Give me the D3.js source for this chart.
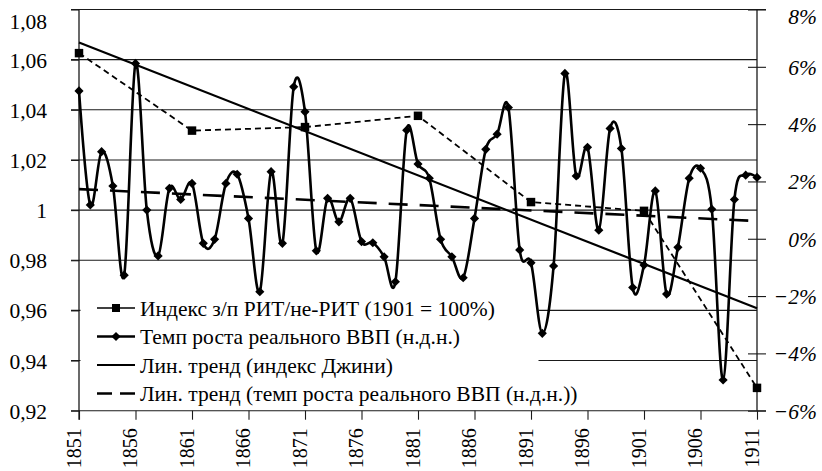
<!DOCTYPE html>
<html><head><meta charset="utf-8">
<script src="https://cdn.jsdelivr.net/npm/d3@7/dist/d3.min.js"></script>
<style>body{margin:0;background:#fff} svg{display:block}</style>
</head><body><svg id="c" width="822" height="471"></svg>
<script>
// ---- data ----
const years = d3.range(1851, 1912);
const gdpGrowth = [
  5.16, 1.18, 3.04, 1.84, -1.27, 6.12, 1.00, -0.60, 1.76, 1.37,
  1.93, -0.16, -0.02, 1.93, 2.25, 0.71, -1.85, 2.34, -0.16, 5.30,
  4.43, -0.42, 1.41, 0.59, 1.41, -0.10, -0.14, -0.63, -1.50, 3.79,
  2.61, 2.11, -0.02, -0.63, -1.36, 0.71, 3.12, 3.65, 4.58, -0.39,
  -0.84, -3.30, -0.95, 5.77, 2.19, 3.19, 0.30, 3.85, 3.15, -1.70,
  -0.92, 1.67, -1.93, -0.30, 2.11, 2.46, 1.03, -4.93, 1.37, 2.22, 2.14
];
const indexYears = [1851, 1861, 1871, 1881, 1891, 1901, 1911];
const wageIndex = [1.0626, 1.0317, 1.0331, 1.0376, 1.0032, 0.9997, 0.9291];
const leftTicks = [0.92, 0.94, 0.96, 0.98, 1.00, 1.02, 1.04, 1.06, 1.08];
const rightTicks = [-6, -4, -2, 0, 2, 4, 6, 8];
const yearTicks = [1851, 1856, 1861, 1866, 1871, 1876, 1881, 1886, 1891, 1896, 1901, 1906, 1911];
const legendLabels = [
  "Индекс з/п РИТ/не-РИТ (1901 = 100%)",
  "Темп роста реального ВВП (н.д.н.)",
  "Лин. тренд (индекс Джини)",
  "Лин. тренд (темп роста реального ВВП (н.д.н.))"
];

// ---- helpers ----
function linReg(xs, ys) {
  const mx = d3.mean(xs), my = d3.mean(ys);
  let num = 0, den = 0;
  xs.forEach((x, i) => { num += (x - mx) * (ys[i] - my); den += (x - mx) * (x - mx); });
  const b = num / den;
  return x => my + b * (x - mx);
}

const svg = d3.select("#c");
const FONT = '"Liberation Serif"';
const FS = 21.5;
const X0 = 79, X1 = 757, Y0 = 410.7, Y1 = 9.5;
const x = d3.scaleLinear().domain([1851, 1911]).range([X0, X1]);
const yL = d3.scaleLinear().domain([0.92, 1.08]).range([Y0, Y1]);
const yR = d3.scaleLinear().domain([-6, 8]).range([Y0, Y1]);
const topL = d3.max(leftTicks), topR = d3.max(rightTicks);

// gridlines
svg.append("g").selectAll("line").data(leftTicks).join("line")
  .attr("x1", X0 - 8)
  .attr("x2", d => (d === topL || d === d3.min(leftTicks)) ? X1 + 9 : X1)
  .attr("y1", d => yL(d)).attr("y2", d => yL(d))
  .attr("stroke", "#1a1a1a").attr("stroke-width", 1.1);

// legend background (covers gridlines)
const lg = svg.append("g");
lg.append("rect").attr("x", X0 + 1.5).attr("y", 297).attr("width", 458).attr("height", 111).attr("fill", "#fff");

// left axis
const fmtL = d => d === 1 ? "1" : d.toFixed(2).replace(".", ",");
const axL = svg.append("g").attr("transform", `translate(${X0},0)`)
  .call(d3.axisLeft(yL).tickValues(leftTicks).tickSize(8).tickSizeOuter(0).tickPadding(24).tickFormat(fmtL));
axL.attr("font-family", null).attr("font-size", null);
axL.select(".domain").remove();
axL.selectAll("line").attr("stroke", "#1a1a1a").attr("stroke-width", 1.1);
axL.selectAll("text").style("font-family", FONT).style("font-size", FS + "px").attr("fill", "#000")
  .attr("dy", d => d === topL ? "0.9em" : "0.35em");
svg.append("line").attr("x1", X0).attr("x2", X0).attr("y1", Y1).attr("y2", Y0 + 9)
  .attr("stroke", "#1a1a1a").attr("stroke-width", 1.3);

// right axis
const fmtR = d => (d < 0 ? "\u2212" + Math.abs(d) : d) + "%";
const axR = svg.append("g").attr("transform", `translate(${X1},0)`)
  .call(d3.axisRight(yR).tickValues(rightTicks).tickSize(9).tickSizeOuter(0).tickFormat(fmtR));
axR.attr("font-family", null).attr("font-size", null);
axR.select(".domain").remove();
axR.selectAll("line").attr("x1", -9).attr("x2", 9).attr("stroke", "#1a1a1a").attr("stroke-width", 1.1);
axR.selectAll("text").attr("x", 60).attr("text-anchor", "end")
  .style("font-family", FONT).style("font-style", "italic").style("font-size", FS + "px").attr("fill", "#000")
  .attr("dy", d => d === topR ? "0.65em" : "0.35em");
svg.append("line").attr("x1", X1).attr("x2", X1).attr("y1", Y1).attr("y2", Y0)
  .attr("stroke", "#1a1a1a").attr("stroke-width", 1.3);

// bottom axis
const axB = svg.append("g").attr("transform", `translate(0,${Y0})`)
  .call(d3.axisBottom(x).tickValues(yearTicks).tickSize(9).tickSizeOuter(0).tickFormat(d3.format("d")));
axB.attr("font-family", null).attr("font-size", null);
axB.select(".domain").remove();
axB.selectAll("line").attr("stroke", "#1a1a1a").attr("stroke-width", 1.1);
axB.selectAll("text")
  .attr("transform", "rotate(-90)")
  .attr("x", -17.5).attr("y", 1).attr("dy", 0)
  .attr("text-anchor", "end")
  .style("font-family", FONT).style("font-size", "20px").attr("fill", "#000");

// trend lines
const trIdx = linReg(indexYears, wageIndex);
const trGdp = linReg(years, gdpGrowth);
const ends = d3.extent(years);
svg.append("path")
  .attr("d", d3.line().x(d => x(d)).y(d => yL(trIdx(d)))(ends))
  .attr("fill", "none").attr("stroke", "#000").attr("stroke-width", 2.2);
svg.append("path")
  .attr("d", d3.line().x(d => x(d)).y(d => yR(trGdp(d)))(ends))
  .attr("fill", "none").attr("stroke", "#000").attr("stroke-width", 2.6)
  .attr("stroke-dasharray", "19,12");

// index series
const idxData = indexYears.map((yr, i) => ({ yr, v: wageIndex[i] }));
svg.append("path")
  .attr("d", d3.line().x(d => x(d.yr)).y(d => yL(d.v))(idxData))
  .attr("fill", "none").attr("stroke", "#000").attr("stroke-width", 1.8)
  .attr("stroke-dasharray", "6,4");
svg.append("g").selectAll("path").data(idxData).join("path")
  .attr("d", d3.symbol(d3.symbolSquare, 72)())
  .attr("transform", d => `translate(${x(d.yr)},${yL(d.v)})`)
  .attr("fill", "#000");

// GDP series
const gdpData = years.map((yr, i) => ({ yr, v: gdpGrowth[i] }));
svg.append("path")
  .attr("d", d3.line().curve(d3.curveCardinal.tension(0)).x(d => x(d.yr)).y(d => yR(d.v))(gdpData))
  .attr("fill", "none").attr("stroke", "#000").attr("stroke-width", 2.6);
svg.append("g").selectAll("path").data(gdpData).join("path")
  .attr("d", d3.symbol(d3.symbolSquare, 42)())
  .attr("transform", d => `translate(${x(d.yr)},${yR(d.v)}) rotate(45)`)
  .attr("fill", "#000");

// legend
const rowY = i => 308 + i * 28.5;
const LX0 = 97, LX1 = 135;
legendLabels.forEach((t, i) => {
  const g = lg.append("g");
  const ln = g.append("line").attr("x1", LX0).attr("x2", LX1).attr("y1", rowY(i)).attr("y2", rowY(i)).attr("stroke", "#000");
  if (i === 0) {
    ln.attr("stroke-width", 1.3);
    g.append("path").attr("d", d3.symbol(d3.symbolSquare, 64)()).attr("transform", `translate(${(LX0 + LX1) / 2},${rowY(i)})`);
  } else if (i === 1) {
    ln.attr("stroke-width", 2.6);
    g.append("path").attr("d", d3.symbol(d3.symbolSquare, 42)()).attr("transform", `translate(${(LX0 + LX1) / 2},${rowY(i)}) rotate(45)`);
  } else if (i === 2) {
    ln.attr("stroke-width", 2.2);
  } else {
    ln.attr("stroke-width", 2.6).attr("stroke-dasharray", "15,8");
  }
  g.append("text").attr("x", 140).attr("y", rowY(i)).attr("dy", "0.35em")
    .style("font-family", FONT).style("font-size", FS + "px").attr("fill", "#000").text(t);
});
</script></body></html>
